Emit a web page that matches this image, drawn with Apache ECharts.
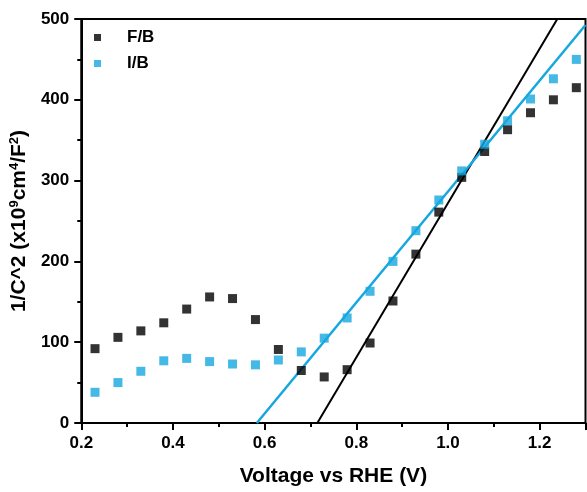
<!DOCTYPE html>
<html>
<head>
<meta charset="utf-8">
<script src="https://cdn.jsdelivr.net/npm/echarts@6/dist/echarts.min.js"></script>
<style>
html,body{margin:0;padding:0;background:#fff;}
#chart{width:587px;height:492px;}
</style>
</head>
<body>
<div id="chart"></div>
<script>
var voltage = [0.23,0.28,0.33,0.38,0.43,0.48,0.53,0.58,0.63,0.68,0.73,0.78,0.83,0.88,0.93,0.98,1.03,1.08,1.13,1.18,1.23,1.28];
var fbValues = [92,106,114,124,141,156,154,128,91,65,57,66,99,151,209,261,304,336,363,384,400,415];
var ibValues = [38,50,64,77,80,76,73,72,78,88,105,130,163,200,238,276,312,345,374,401,426,450];
var fitFB = [[0.715,0],[1.2385,500]];
var fitIB = [[0.583,0],[1.3,492.6]];
var xTicks = [0.2,0.4,0.6,0.8,1.0,1.2];

var BLUE = '#17A7DF';
var FONT = 'Arial, "Liberation Sans", sans-serif';

function pairs(xs, ys){ return xs.map(function(x,i){ return [x, ys[i]]; }); }

var chart = echarts.init(document.getElementById('chart'), null, {renderer:'canvas'});
chart.setOption({
  animation:false,
  backgroundColor:'#fff',
  grid:{left:81, right:1.5, top:19, bottom:68, show:true, borderColor:'#000', borderWidth:2, backgroundColor:'transparent'},
  legend:{
    orient:'vertical', left:89, top:24, icon:'rect', itemWidth:7, itemHeight:7, itemGap:9,
    data:['F/B','I/B'],
    textStyle:{fontFamily:FONT, fontWeight:'bold', fontSize:17, color:'#000', lineHeight:17, padding:[0,0,0,21]}
  },
  xAxis:{
    type:'value', min:0.2, max:1.3, interval:0.2,
    name:'Voltage vs RHE (V)', nameLocation:'middle', nameGap:43,
    nameTextStyle:{fontFamily:FONT, fontWeight:'bold', fontSize:21, color:'#000'},
    axisLine:{show:true, onZero:false, lineStyle:{color:'#000', width:2}},
    axisTick:{show:true, inside:false, length:7, lineStyle:{color:'#000', width:2}},
    minorTick:{show:true, splitNumber:2, length:4, lineStyle:{color:'#000', width:2}},
    splitLine:{show:false},
    axisLabel:{showMaxLabel:false, margin:12, fontFamily:FONT, fontWeight:'bold', fontSize:17, color:'#000',
      formatter:function(v){ return xTicks.indexOf(Math.round(v*10)/10) >= 0 ? v.toFixed(1) : ''; }}
  },
  yAxis:{
    type:'value', min:0, max:500, interval:100,
    name:'1/C^2 (x10{sup|9}cm{sup|4}/F{sup|2})', nameLocation:'middle', nameGap:46, nameRotate:90,
    nameTextStyle:{fontFamily:FONT, fontWeight:'bold', fontSize:21, color:'#000',
      rich:{sup:{fontFamily:FONT, fontWeight:'bold', fontSize:13, color:'#000', padding:[0,0,10,0]}}},
    axisLine:{show:true, lineStyle:{color:'#000', width:2}},
    axisTick:{show:true, inside:false, length:7, lineStyle:{color:'#000', width:2}},
    minorTick:{show:true, splitNumber:2, length:4, lineStyle:{color:'#000', width:2}},
    splitLine:{show:false},
    axisLabel:{margin:12, fontFamily:FONT, fontWeight:'bold', fontSize:17, color:'#000'}
  },
  series:[
    {type:'line', data:fitFB, symbol:'none', silent:true, lineStyle:{color:'#000', width:2}, z:2},
    {type:'line', data:fitIB, symbol:'none', silent:true, lineStyle:{color:BLUE, width:2.5}, z:2},
    {name:'F/B', type:'scatter', data:pairs(voltage, fbValues), symbol:'rect', symbolSize:9, itemStyle:{color:'#000'}, z:3},
    {name:'I/B', type:'scatter', data:pairs(voltage, ibValues), symbol:'rect', symbolSize:9, itemStyle:{color:BLUE}, z:4}
  ]
});
</script>
</body>
</html>
